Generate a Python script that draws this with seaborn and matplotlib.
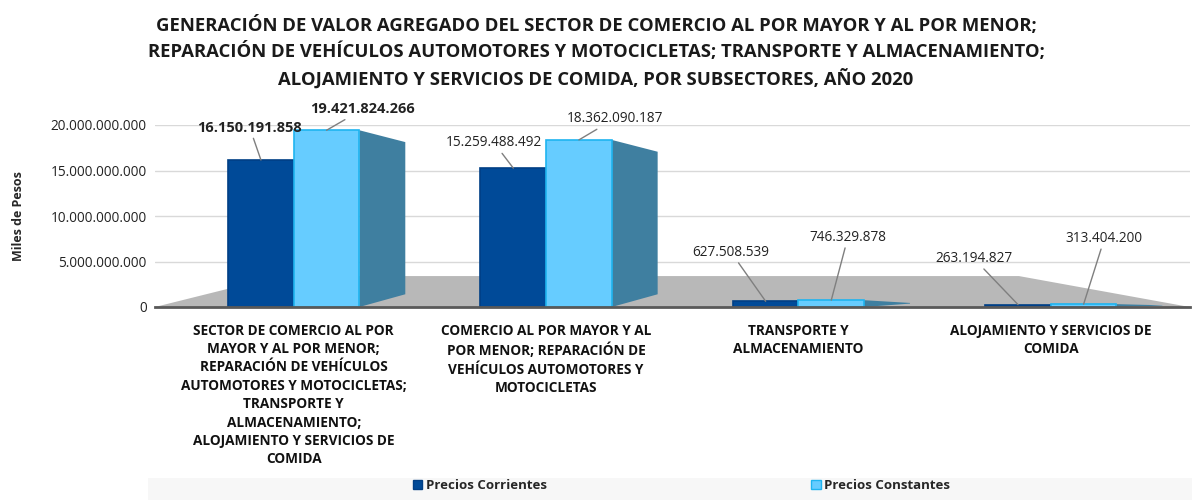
import pandas as pd
import matplotlib.pyplot as plt
import seaborn as sns
from matplotlib.patches import Polygon

sectores = [
    "SECTOR DE COMERCIO AL POR\nMAYOR Y AL POR MENOR;\nREPARACIÓN DE VEHÍCULOS\nAUTOMOTORES Y MOTOCICLETAS;\nTRANSPORTE Y\nALMACENAMIENTO;\nALOJAMIENTO Y SERVICIOS DE\nCOMIDA",
    "COMERCIO AL POR MAYOR Y AL\nPOR MENOR; REPARACIÓN DE\nVEHÍCULOS AUTOMOTORES Y\nMOTOCICLETAS",
    "TRANSPORTE Y\nALMACENAMIENTO",
    "ALOJAMIENTO Y SERVICIOS DE\nCOMIDA",
]
precios_corrientes = [16150191858, 15259488492, 627508539, 263194827]
precios_constantes = [19421824266, 18362090187, 746329878, 313404200]
series = ["Precios Corrientes", "Precios Constantes"]
colores = ["#004A98", "#66CCFF"]
bordes = ["#003F85", "#1FB4F0"]
y_ticks = [0, 5e9, 10e9, 15e9, 20e9]


def miles(v):
    return f"{v:,.0f}".replace(",", ".")


df = pd.DataFrame({
    "Sector": sectores * 2,
    "Serie": [series[0]] * 4 + [series[1]] * 4,
    "Valor": precios_corrientes + precios_constantes,
})

sns.set_style("white")
plt.rcParams["font.family"] = ["Open Sans", "DejaVu Sans"]

fig = plt.figure(figsize=(11.92, 5.0), dpi=100)
ax = fig.add_axes([0.13, 0.386, 0.868, 0.364])

sns.barplot(data=df, x="Sector", y="Valor", hue="Serie", palette=colores,
            saturation=1, width=0.52, ax=ax, legend=False, zorder=3)
barras = list(ax.patches)[:8]

ax.set_ylim(0, 20e9)
ax.set_xlim(-0.55, 3.55)
ax.set_yticks(y_ticks)
ax.set_yticklabels([miles(v) for v in y_ticks], fontsize=9.8, color="#222222")
ax.yaxis.grid(True, color="#D9D9D9", linewidth=1, zorder=0)
ax.set_axisbelow(True)
for s in ["top", "right", "left"]:
    ax.spines[s].set_visible(False)
ax.spines["bottom"].set_color("#595959")
ax.spines["bottom"].set_linewidth(2)
ax.spines["bottom"].set_zorder(4)
ax.tick_params(axis="both", length=0, pad=6)
ax.set_xticks(range(len(sectores)))
ax.set_xticklabels(sectores, fontsize=9.8, fontweight="bold", linespacing=1.4,
                   va="top", ha="center", color="#111111")
ax.tick_params(axis="x", pad=12)
ax.set_xlabel("")
ax.set_ylabel("Miles de Pesos", fontsize=9, fontweight="bold", labelpad=18)

# piso gris (decorativo, en fracciones del eje x)
x0, x1 = ax.get_xlim()
ancho = x1 - x0
piso = Polygon([(x0, 0), (x0 + 0.12 * ancho, 3.4e9), (x1 - 0.165 * ancho, 3.4e9), (x1, 0)],
               closed=True, facecolor="#B8B8B8", edgecolor="none", zorder=1)
ax.add_patch(piso)

# bordes y caras laterales
for i, p in enumerate(barras):
    serie = 0 if i < 4 else 1
    p.set_edgecolor(bordes[serie])
    p.set_linewidth(1.2)
    if serie == 1:
        xr = p.get_x() + p.get_width()
        h = p.get_height()
        dx = p.get_width() * 0.7
        caida = min(1.3e9, h * 0.4)
        lado = Polygon([(xr, 0), (xr, h), (xr + dx, h - caida), (xr + dx, min(1.4e9, h * 0.5))],
                       closed=True, facecolor="#3F7FA0", edgecolor="none", zorder=2)
        ax.add_patch(lado)

# etiquetas de datos (desplazamiento en puntos)
desp_corrientes = [(-8, 18), (-14, 13), (-25, 30), (-32, 28)]
desp_constantes = [(26, 10), (26, 10), (12, 40), (15, 42)]
desplazamientos = desp_corrientes + desp_constantes
valores = precios_corrientes + precios_constantes
for i, p in enumerate(barras):
    k = i % 4
    cx = p.get_x() + p.get_width() / 2
    ax.annotate(miles(valores[i]), xy=(cx, p.get_height()), xytext=desplazamientos[i],
                textcoords="offset points", ha="center", va="bottom",
                fontsize=10.5 if k == 0 else 9.8,
                fontweight="bold" if k == 0 else "normal", color="#222222",
                arrowprops=dict(arrowstyle="-", color="#7F7F7F", lw=1,
                                shrinkA=0, shrinkB=0), zorder=5)

fig.suptitle("GENERACIÓN DE VALOR AGREGADO DEL SECTOR DE COMERCIO AL POR MAYOR Y AL POR MENOR;\n"
             "REPARACIÓN DE VEHÍCULOS AUTOMOTORES Y MOTOCICLETAS; TRANSPORTE Y ALMACENAMIENTO;\n"
             "ALOJAMIENTO Y SERVICIOS DE COMIDA, POR SUBSECTORES, AÑO 2020",
             x=0.5, y=0.968, fontsize=13.3, fontweight="bold", linespacing=1.45,
             color="#1A1A1A")

# banda de leyenda
fig.patches.append(plt.Rectangle((0.124, 0.0), 0.876, 0.045, transform=fig.transFigure,
                                 facecolor="#F7F7F7", edgecolor="none", zorder=0))
handles = [plt.Rectangle((0, 0), 1, 1, facecolor=colores[j], edgecolor=bordes[j])
           for j in range(2)]
fig.legend(handles, series, loc="lower center", bbox_to_anchor=(0.572, -0.008),
           ncol=2, frameon=False, columnspacing=20, handlelength=0.7,
           handleheight=0.7, handletextpad=0.3,
           prop={"weight": "bold", "size": 9.5})

fig.savefig("out.png", dpi=100)
